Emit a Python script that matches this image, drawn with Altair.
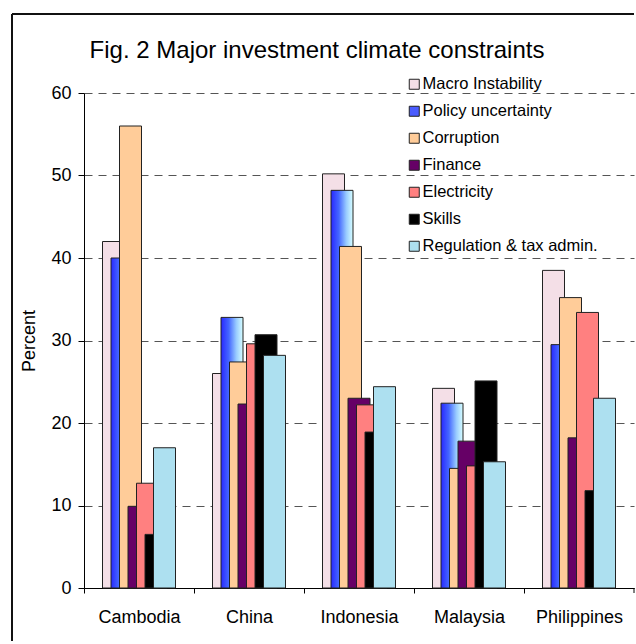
import altair as alt
import pandas as pd

categories = ["Cambodia", "China", "Indonesia", "Malaysia", "Philippines"]
series = ["Macro Instability", "Policy uncertainty", "Corruption", "Finance",
          "Electricity", "Skills", "Regulation & tax admin."]

macro = [42.0, 26.0, 50.2, 24.2, 38.5]
policy = [40.0, 32.8, 48.2, 22.4, 29.5]
corruption = [56.0, 27.4, 41.4, 14.5, 35.2]
finance = [9.9, 22.3, 23.0, 17.8, 18.2]
electricity = [12.7, 29.6, 22.2, 14.8, 33.4]
skills = [6.5, 30.7, 18.9, 25.1, 11.8]
regulation = [17.0, 28.2, 24.4, 15.3, 23.0]

values = [macro, policy, corruption, finance, electricity, skills, regulation]
colors = ["#f4dfe7", "#4a5cff", "#ffcc99", "#660066", "#ff8080", "#000000", "#ade0f0"]

rows = []
for si, s in enumerate(series):
    for ci, c in enumerate(categories):
        rows.append({"category": c, "series": s, "value": values[si][ci], "ci": ci, "si": si})
df = pd.DataFrame(rows)

FONT = "Liberation Sans"
STEP = 8.5 / 110.0
HALF = 0.1

xscale = alt.Scale(domain=[0, 5], nice=False, zero=False)
yscale = alt.Scale(domain=[0, 60], nice=False)
label_list = "[" + ",".join("'" + c + "'" for c in categories) + "]"
xaxis = alt.Axis(values=[0, 1, 2, 3, 4], labelExpr=f"{label_list}[datum.value]",
                 labelOffset=55, labelFlush=False, labelOverlap=False, labelBound=False,
                 tickSize=5, tickColor="#000", domainColor="#000", labelFontSize=18,
                 labelFont=FONT, labelColor="#000", labelPadding=15, grid=False, title=None)
yaxis = alt.Axis(values=[0, 10, 20, 30, 40, 50, 60], tickSize=6, tickColor="#000", domainColor="#000",
                 labelFontSize=18, labelFont=FONT, labelColor="#000", labelPadding=7,
                 grid=True, gridDash=[8, 6], gridColor="#555", gridWidth=1,
                 title="Percent", titleFont=FONT, titleFontSize=18, titleFontWeight="normal",
                 titleColor="#000", titlePadding=12)

fill_scale = alt.Scale(domain=series, range=colors)
legend = alt.Legend(title=None, orient="none", legendX=322, legendY=-17, direction="vertical",
                    symbolType="square", symbolSize=100, symbolStrokeColor="#222",
                    symbolStrokeWidth=1, symbolOpacity=1, labelFont=FONT, labelFontSize=16.5,
                    labelColor="#000", labelOffset=0, rowPadding=10, padding=0,
                    labelLimit=300)

gradient = alt.LinearGradient(
    gradient="linear", x1=0, x2=1, y1=0, y2=0,
    stops=[alt.GradientStop(offset=0, color="#2828ff"),
           alt.GradientStop(offset=0.35, color="#4466ff"),
           alt.GradientStop(offset=0.7, color="#99ccff"),
           alt.GradientStop(offset=1, color="#d8ffff")])

layers = []
for si, s in enumerate(series):
    base = alt.Chart(df).transform_filter(alt.datum.si == si).transform_calculate(
        x0=f"datum.ci + 0.5 + (datum.si - 3) * {STEP} - {HALF}",
        x1=f"datum.ci + 0.5 + (datum.si - 3) * {STEP} + {HALF}")
    enc = dict(x=alt.X("x0:Q", scale=xscale, axis=xaxis), x2="x1:Q",
               y=alt.Y("value:Q", scale=yscale, axis=yaxis), y2=alt.datum(0))
    if s == "Policy uncertainty":
        layer = base.mark_bar(fill=gradient, stroke="#222", strokeWidth=1).encode(**enc)
    else:
        layer = base.mark_bar(stroke="#222", strokeWidth=1).encode(
            fill=alt.Fill("series:N", scale=fill_scale, legend=legend), **enc)
    layers.append(layer)

one = pd.DataFrame({"a": [0]})
end_tick = alt.Chart(one).mark_rule(color="#000", strokeWidth=1).encode(
    x=alt.datum(5), y=alt.value(495), y2=alt.value(500))
border_left = alt.Chart(one).mark_rule(color="#111", strokeWidth=2).encode(
    x=alt.value(-72), y=alt.value(-79), y2=alt.value(548))
border_top = alt.Chart(one).mark_rule(color="#111", strokeWidth=2).encode(
    x=alt.value(-72), x2=alt.value(550), y=alt.value(-79))

chart = alt.layer(*layers, end_tick, border_left, border_top).properties(
    width=550, height=495, padding={"left": 11, "top": 13, "right": 0, "bottom": 0},
    title=alt.TitleParams("Fig. 2 Major investment climate constraints", font=FONT, fontSize=24,
                          fontWeight="normal", color="#000", anchor="middle", frame="group",
                          dx=-42, offset=-69, baseline="alphabetic"),
    background="white",
).configure_view(stroke=None)

chart.save("out.html", embed_options={"renderer": "svg", "actions": False})
